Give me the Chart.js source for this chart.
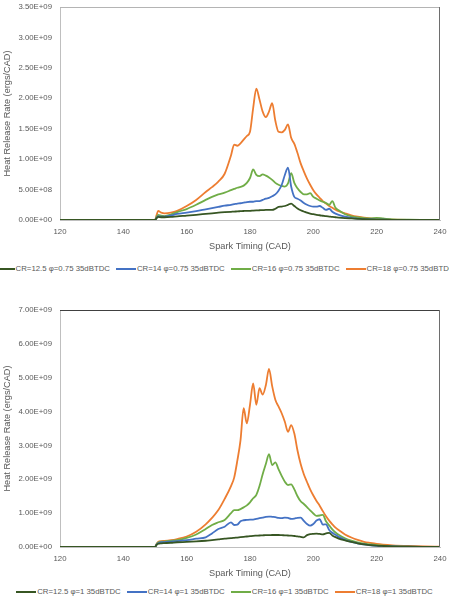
<!DOCTYPE html>
<html>
<head>
<meta charset="utf-8">
<script src="https://cdn.jsdelivr.net/npm/chart.js@4.4.1/dist/chart.umd.min.js"></script>
<style>
    body { margin: 0; width: 449px; height: 603px; overflow: hidden; background: #fff; position: relative; }
    .box { position: absolute; left: 0; width: 449px; }
    .legend {
        position: absolute; left: 0; width: 449px; height: 12px; line-height: 12px;
        display: flex; justify-content: center; white-space: nowrap;
        font-family: "Liberation Sans", sans-serif; font-size: 7.8px; color: #595959;
    }
    .legend .item { display: flex; align-items: center; flex-shrink: 0; margin: 0 3px; }
    .legend .swatch { display: inline-block; width: 20px; height: 2px; margin-right: 1px; }
</style>
</head>
<body>
<div class="box" style="top:0;height:256px"><canvas id="leanChart"></canvas></div>
<div class="legend" id="leanLegend" style="top:263px"></div>
<div class="box" style="top:300px;height:283px"><canvas id="stoichChart"></canvas></div>
<div class="legend" id="stoichLegend" style="top:586px"></div>
<script>
// crank angle (CAD) sample points shared by every series
const cad = [120, 150, 150.5, 151, 152, 153, 155, 157, 160, 163, 166, 168, 170, 172, 174, 175, 176, 177, 178, 179,
    180, 181, 182, 183, 184, 185, 186, 187, 188, 189,
    190, 191, 192, 193, 194, 195, 196, 197, 198, 199,
    200, 201, 202, 203, 204, 205, 206, 207, 208,
    210, 212, 214, 216, 218, 220, 222, 225, 230, 235, 240];

// heat release rate, units of 1E+08 ergs/CAD -- phi = 0.75
const cr125Lean = [0, 0, 0.3, 0.5, 0.45, 0.45, 0.5, 0.6, 0.72, 0.85, 1.0, 1.1, 1.2, 1.28, 1.35, 1.38, 1.42, 1.45, 1.48, 1.5,
    1.5, 1.55, 1.58, 1.6, 1.62, 1.65, 1.65, 1.65, 1.85, 2.15,
    2.2, 2.3, 2.5, 2.7, 2.3, 1.9, 1.6, 1.4, 1.2, 1.05,
    0.95, 0.85, 0.78, 0.7, 0.62, 0.56, 0.5, 0.45, 0.4,
    0.32, 0.26, 0.2, 0.14, 0.1, 0.07, 0.05, 0.03, 0.02, 0.01, 0.01];
const cr14Lean = [0, 0, 0.35, 0.6, 0.55, 0.55, 0.75, 1.0, 1.2, 1.45, 1.75, 1.95, 2.15, 2.35, 2.5, 2.6, 2.7, 2.75, 2.85, 2.95,
    3.0, 3.0, 3.1, 3.1, 3.3, 3.5, 3.65, 3.9, 4.2, 4.8,
    5.75, 7.4, 8.6, 5.5, 3.8, 3.5, 3.2, 2.8, 2.5, 2.3,
    2.2, 2.2, 2.3, 2.0, 1.65, 1.85, 1.35, 1.05, 0.85,
    0.55, 0.35, 0.22, 0.15, 0.1, 0.07, 0.05, 0.03, 0.02, 0.01, 0.01];
const cr16Lean = [0, 0, 0.5, 0.85, 0.7, 0.65, 0.9, 1.3, 1.8, 2.5, 3.3, 3.8, 4.2, 4.5, 4.9, 5.1, 5.3, 5.45, 5.65, 6.1,
    6.9, 8.3, 7.4, 7.2, 7.5, 7.3, 7.0, 6.6, 6.1, 5.8,
    5.6, 5.5, 6.0, 7.7, 6.1, 5.2, 4.6, 4.2, 4.2, 4.4,
    3.8, 3.5, 3.2, 3.0, 2.8, 2.5, 3.1, 2.0, 1.6,
    0.95, 0.6, 0.42, 0.32, 0.28, 0.35, 0.25, 0.1, 0.04, 0.02, 0.01];
const cr18Lean = [0, 0, 0.8, 1.5, 1.2, 1.1, 1.2, 1.5, 2.3, 3.3, 4.6, 5.4, 6.3, 7.6, 10.6, 12.4, 12.2, 12.6, 13.2, 13.8,
    14.5, 18.4, 21.6, 19.8, 17.8, 16.9, 17.8, 19.2, 16.3, 14.5,
    14.4, 14.8, 15.7, 13.5, 12.5, 11.0, 9.3, 8.0, 6.8, 5.8,
    4.9, 4.2, 3.65, 3.1, 2.7, 2.3, 2.0, 1.7, 1.45,
    1.1, 0.78, 0.55, 0.37, 0.25, 0.16, 0.1, 0.06, 0.03, 0.02, 0.01];

// phi = 1
const cr125Stoich = [0, 0, 0.6, 0.95, 1.1, 1.15, 1.25, 1.4, 1.5, 1.65, 1.85, 2.05, 2.25, 2.45, 2.6, 2.7, 2.8, 2.9, 3.0, 3.1,
    3.2, 3.3, 3.35, 3.4, 3.45, 3.5, 3.5, 3.55, 3.55, 3.55,
    3.5, 3.45, 3.4, 3.35, 3.25, 3.15, 3.0, 2.85, 3.5, 3.8,
    3.9, 3.95, 3.85, 3.75, 4.0, 4.2, 3.4, 2.9, 2.5,
    1.95, 1.5, 1.1, 0.8, 0.55, 0.4, 0.3, 0.18, 0.08, 0.04, 0.02];
const cr14Stoich = [0, 0, 0.7, 1.1, 1.4, 1.45, 1.6, 1.75, 2.0, 2.45, 2.85, 4.0, 5.3, 6.0, 7.3, 6.5, 6.6, 7.6, 7.9, 8.0,
    8.1, 8.1, 8.3, 8.5, 8.7, 8.9, 9.0, 8.9, 8.8, 8.6,
    8.5, 8.7, 8.6, 8.3, 8.4, 8.6, 8.7, 7.7, 6.8, 6.3,
    6.8, 7.8, 8.2, 6.6, 6.7, 5.0, 4.2, 3.6, 3.0,
    2.1, 1.5, 1.05, 0.75, 0.5, 0.35, 0.25, 0.15, 0.08, 0.04, 0.02];
const cr16Stoich = [0, 0, 0.8, 1.3, 1.55, 1.6, 1.8, 2.05, 2.7, 3.7, 5.3, 6.5, 7.3, 8.0, 10.0, 10.9, 10.9, 11.2, 11.7, 12.3,
    13.2, 14.4, 15.4, 18.0, 21.5, 24.5, 27.4, 24.2, 25.0, 23.0,
    21.0, 19.3, 18.3, 18.5, 17.0, 15.0, 13.5, 12.7, 11.8, 10.8,
    9.9, 9.2, 9.3, 9.5, 7.6, 6.4, 5.2, 4.3, 3.6,
    2.6, 1.9, 1.4, 1.0, 0.75, 0.55, 0.4, 0.25, 0.12, 0.06, 0.03];
const cr18Stoich = [0, 0, 0.9, 1.5, 1.75, 1.8, 2.0, 2.35, 3.1, 4.5, 6.7, 8.6, 10.9, 14.2, 18.0, 20.5, 25.5, 31.5, 41.0, 36.5,
    42.0, 48.3, 42.0, 46.9, 45.0, 47.8, 52.6, 47.5, 43.5, 41.5,
    39.5, 37.0, 34.0, 36.0, 33.5, 28.5, 24.5, 21.5, 19.2, 17.0,
    15.2, 13.6, 12.2, 10.6, 9.1, 7.8, 6.7, 5.7, 5.0,
    3.7, 2.8, 2.1, 1.55, 1.2, 0.9, 0.7, 0.5, 0.3, 0.18, 0.1];

const leanLabels = ['CR=12.5 φ=0.75 35dBTDC', 'CR=14 φ=0.75 35dBTDC', 'CR=16 φ=0.75 35dBTDC', 'CR=18 φ=0.75 35dBTDC'];
const stoichLabels = ['CR=12.5 φ=1 35dBTDC', 'CR=14 φ=1 35dBTDC', 'CR=16 φ=1 35dBTDC', 'CR=18 φ=1 35dBTDC'];
const seriesColors = ['#375623', '#4472C4', '#70AD47', '#ED7D31'];

const FONT = '"Liberation Sans", sans-serif';
const TEXT = '#595959';

// Excel style scientific labels: 5.00E+08
function sciLabel(v) {
    const [m, e] = Number(v).toExponential(2).split('e');
    const sign = e[0] === '-' ? '-' : '+';
    return m + 'E' + sign + e.replace(/[+-]/, '').padStart(2, '0');
}

function makeDatasets(labels, series) {
    return series.map((vals, i) => ({
        label: labels[i],
        data: cad.map((x, j) => ({ x: x, y: vals[j] * 1e8 })),
        borderColor: seriesColors[i],
        backgroundColor: seriesColors[i],
        borderWidth: 1.8,
        pointRadius: 0,
        cubicInterpolationMode: 'monotone',
        fill: false
    }));
}

// top and right sides of the plot frame
const plotFrame = {
    id: 'plotFrame',
    afterDraw(chart, args, opts) {
        const { ctx, chartArea: a } = chart;
        ctx.save();
        ctx.lineWidth = 1;
        ctx.strokeStyle = opts.top;
        ctx.beginPath();
        ctx.moveTo(a.left, a.top + 0.5);
        ctx.lineTo(a.right, a.top + 0.5);
        ctx.stroke();
        ctx.strokeStyle = opts.right;
        ctx.beginPath();
        ctx.moveTo(a.right - 0.5, a.top);
        ctx.lineTo(a.right - 0.5, a.bottom);
        ctx.stroke();
        ctx.restore();
    }
};

function makeChart(id, labels, series, yMax, yStep, padTop, frame) {
    return new Chart(document.getElementById(id), {
        type: 'line',
        data: { datasets: makeDatasets(labels, series) },
        plugins: [plotFrame],
        options: {
            responsive: true,
            maintainAspectRatio: false,
            animation: false,
            layout: { padding: { top: padTop, right: 9, left: 0, bottom: 0 } },
            plugins: {
                legend: { display: false },
                tooltip: { enabled: false },
                plotFrame: frame
            },
            scales: {
                x: {
                    type: 'linear',
                    min: 120,
                    max: 240,
                    afterFit: (scale) => {
                        scale.height = 36;
                        scale.paddingLeft = 0;
                        scale.paddingRight = 0;
                    },
                    ticks: { stepSize: 20, color: TEXT, padding: 7, font: { family: FONT, size: 7.8 } },
                    grid: { color: 'transparent', drawTicks: false },
                    border: { color: '#bfbfbf', width: 1 },
                    title: {
                        display: true,
                        text: 'Spark Timing (CAD)',
                        color: TEXT,
                        padding: { top: 0, bottom: 4 },
                        font: { family: FONT, size: 9.2 }
                    }
                },
                y: {
                    min: 0,
                    max: yMax,
                    afterFit: (scale) => {
                        scale.width = 60;
                        scale.paddingTop = 0;
                        scale.paddingBottom = 0;
                    },
                    ticks: { stepSize: yStep, color: TEXT, padding: 8, font: { family: FONT, size: 7.8 }, callback: sciLabel },
                    grid: { color: 'transparent', drawTicks: false },
                    border: { color: '#bfbfbf', width: 1 },
                    title: {
                        display: true,
                        text: 'Heat Release Rate (ergs/CAD)',
                        color: TEXT,
                        padding: { top: 2, bottom: 0 },
                        font: { family: FONT, size: 9.2 }
                    }
                }
            }
        }
    });
}

function buildLegend(chart, el) {
    el.innerHTML = chart.data.datasets.map(ds => `
        <span class="item"><span class="swatch" style="background:${ds.borderColor}"></span>${ds.label}</span>
    `).join('');
}

const leanChart = makeChart('leanChart', leanLabels, [cr125Lean, cr14Lean, cr16Lean, cr18Lean], 3.5e9, 5e8, 7,
    { top: '#b4b4b4', right: '#6e6e6e' });
const stoichChart = makeChart('stoichChart', stoichLabels, [cr125Stoich, cr14Stoich, cr16Stoich, cr18Stoich], 7e9, 1e9, 10,
    { top: '#404040', right: '#6e6e6e' });

buildLegend(leanChart, document.getElementById('leanLegend'));
buildLegend(stoichChart, document.getElementById('stoichLegend'));
</script>
</body>
</html>
